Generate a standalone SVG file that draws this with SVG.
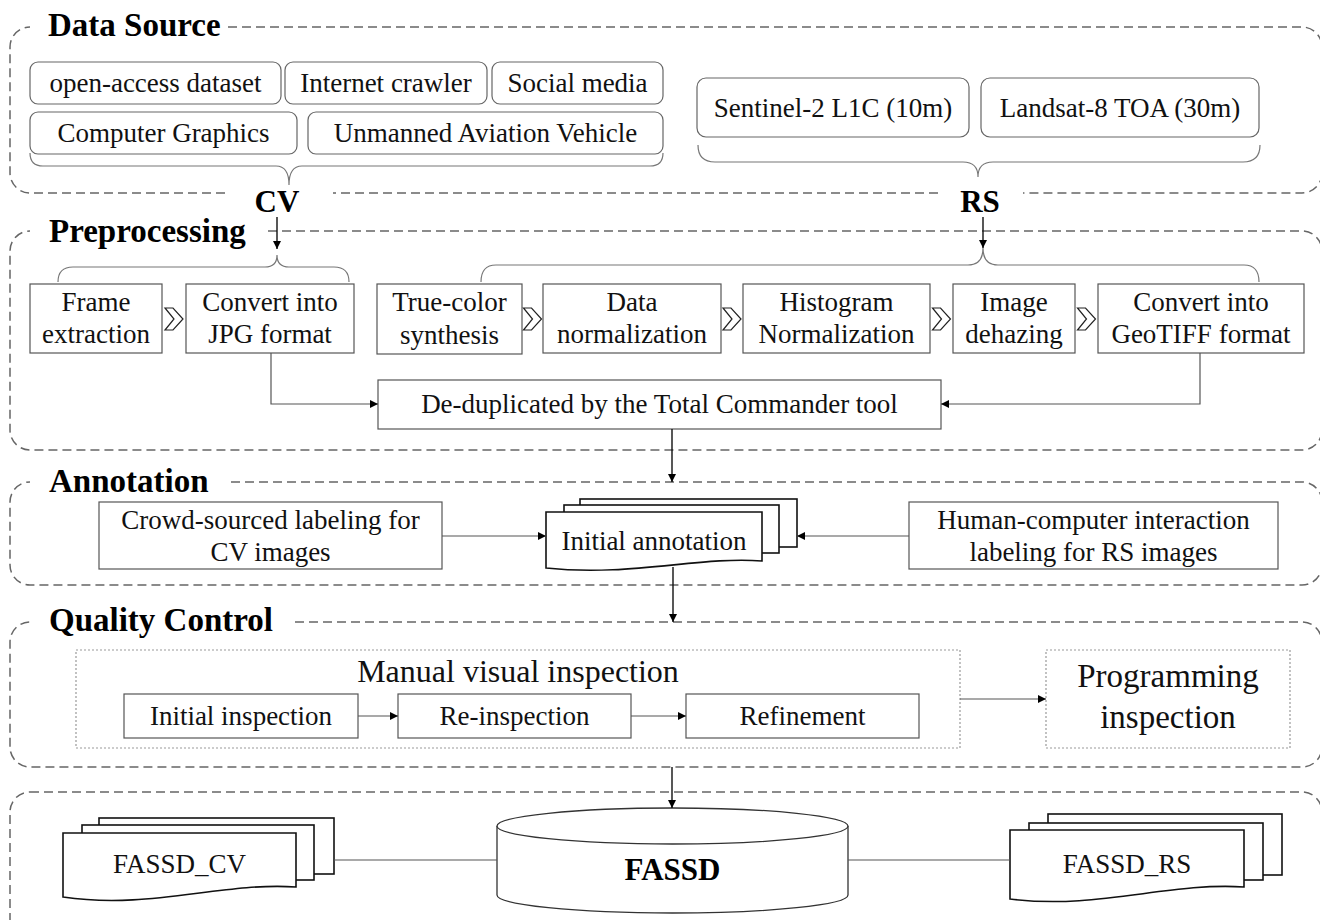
<svg xmlns="http://www.w3.org/2000/svg" width="1320" height="920" viewBox="0 0 1320 920">
<defs>
<marker id="ah" viewBox="0 0 10 10" refX="10" refY="5" markerWidth="9" markerHeight="8" markerUnits="userSpaceOnUse" orient="auto">
<path d="M0,0 L10,5 L0,10 z" fill="#000"/>
</marker>
<style>
.sec{fill:none;stroke:#666;stroke-width:1.5;stroke-dasharray:9 5}
.title{font-family:"Liberation Serif","Times New Roman",serif;font-weight:bold;font-size:33px;fill:#000}
.big{font-family:"Liberation Serif","Times New Roman",serif;font-weight:bold;font-size:31px;fill:#000;text-anchor:middle}
.t{font-family:"Liberation Serif","Times New Roman",serif;font-size:27px;fill:#111;text-anchor:middle}
.t32{font-family:"Liberation Serif","Times New Roman",serif;font-size:32px;fill:#111;text-anchor:middle}
.rbox{fill:#fff;stroke:#666;stroke-width:1.2}
.box{fill:#fff;stroke:#555;stroke-width:1.2}
.dot{fill:#fff;stroke:#999;stroke-width:1.2;stroke-dasharray:2 2}
.brace{fill:none;stroke:#777;stroke-width:1.2}
.chev{fill:none;stroke:#222;stroke-width:1.2;stroke-linejoin:miter}
.doc{fill:#fff;stroke:#111;stroke-width:1.6}
.conn{fill:none;stroke:#555;stroke-width:1.2}
.conk{fill:none;stroke:#111;stroke-width:1.4}
</style>
</defs>

<g id="sections">
<path class="sec" d="M 228 27 H 1302 A 20 20 0 0 1 1322 47 V 173 A 20 20 0 0 1 1302 193 H 1023 M 938 193 H 333 M 225 193 H 30 A 20 20 0 0 1 10 173 V 47 A 20 20 0 0 1 30 27"/>
<path class="sec" d="M 268 231 H 1302 A 20 20 0 0 1 1322 251 V 430 A 20 20 0 0 1 1302 450 H 30 A 20 20 0 0 1 10 430 V 251 A 20 20 0 0 1 30 231"/>
<path class="sec" d="M 231 482 H 1302 A 20 20 0 0 1 1322 502 V 565 A 20 20 0 0 1 1302 585 H 30 A 20 20 0 0 1 10 565 V 502 A 20 20 0 0 1 30 482"/>
<path class="sec" d="M 295 622 H 1302 A 20 20 0 0 1 1322 642 V 747 A 20 20 0 0 1 1302 767 H 30 A 20 20 0 0 1 10 747 V 642 A 20 20 0 0 1 30 622"/>
<path class="sec" d="M 30 792 H 1302 A 20 20 0 0 1 1322 812 V 950 M 10 950 V 812 A 20 20 0 0 1 30 792"/>
<text class="title" x="48" y="36">Data Source</text>
<text class="title" x="49" y="242">Preprocessing</text>
<text class="title" x="49" y="492">Annotation</text>
<text class="title" x="49" y="631">Quality Control</text>
</g>

<g id="data-source">
<g id="n-open"><rect class="rbox" x="30" y="62" width="251" height="42" rx="8"/><text class="t" x="155.5" y="92">open-access dataset</text></g>
<g id="n-crawler"><rect class="rbox" x="285" y="62" width="202" height="42" rx="8"/><text class="t" x="386" y="92">Internet crawler</text></g>
<g id="n-social"><rect class="rbox" x="492" y="62" width="171" height="42" rx="8"/><text class="t" x="577.5" y="92">Social media</text></g>
<g id="n-cg"><rect class="rbox" x="30" y="112" width="267" height="42" rx="8"/><text class="t" x="163.5" y="142">Computer Graphics</text></g>
<g id="n-uav"><rect class="rbox" x="308" y="112" width="355" height="42" rx="8"/><text class="t" x="485.5" y="142">Unmanned Aviation Vehicle</text></g>
<g id="n-s2"><rect class="rbox" x="697" y="78" width="272" height="59" rx="9"/><text class="t" x="833" y="117">Sentinel-2 L1C (10m)</text></g>
<g id="n-l8"><rect class="rbox" x="981" y="78" width="278" height="59" rx="9"/><text class="t" x="1120" y="117">Landsat-8 TOA (30m)</text></g>
<path class="brace" d="M 30 153 Q 30 166 43 166 H 276 Q 289 166 289 185 Q 289 166 302 166 H 650 Q 663 166 663 153"/>
<path class="brace" d="M 698 145 Q 698 162 715 162 H 963 Q 978 162 978 177 Q 978 162 993 162 H 1243 Q 1260 162 1260 145"/>
<text class="big" x="277" y="212">CV</text>
<text class="big" x="980" y="212">RS</text>
</g>

<g id="preprocessing">
<path class="brace" d="M 58 282 Q 58 267 73 267 H 265 Q 277 267 277 255 Q 277 267 289 267 H 334 Q 349 267 349 282"/>
<path class="brace" d="M 481 282 Q 481 265 496 265 H 968 Q 983 265 983 248 Q 983 265 998 265 H 1244 Q 1259 265 1259 282"/>
<g id="n-frame"><rect class="box" x="30" y="284" width="132" height="69"/><text class="t" x="96" y="311">Frame</text><text class="t" x="96" y="343">extraction</text></g>
<g id="n-jpg"><rect class="box" x="186" y="284" width="168" height="69"/><text class="t" x="270" y="311">Convert into</text><text class="t" x="270" y="343">JPG format</text></g>
<g id="n-true"><rect class="box" x="377" y="284" width="145" height="70"/><text class="t" x="449.5" y="311">True-color</text><text class="t" x="449.5" y="344">synthesis</text></g>
<g id="n-datanorm"><rect class="box" x="543" y="284" width="178" height="69"/><text class="t" x="632" y="311">Data</text><text class="t" x="632" y="343">normalization</text></g>
<g id="n-hist"><rect class="box" x="743" y="284" width="187" height="69"/><text class="t" x="836.5" y="311">Histogram</text><text class="t" x="836.5" y="343">Normalization</text></g>
<g id="n-dehaze"><rect class="box" x="953" y="284" width="122" height="69"/><text class="t" x="1014" y="311">Image</text><text class="t" x="1014" y="343">dehazing</text></g>
<g id="n-geotiff"><rect class="box" x="1098" y="284" width="206" height="69"/><text class="t" x="1201" y="311">Convert into</text><text class="t" x="1201" y="343">GeoTIFF format</text></g>
<g id="chevrons">
<path class="chev" d="M 165 308 H 173 L 183 319 L 173 330 H 165 L 174 319 Z"/>
<path class="chev" d="M 523.5 308 H 531.5 L 541.5 319 L 531.5 330 H 523.5 L 532.5 319 Z"/>
<path class="chev" d="M 723 308 H 731 L 741 319 L 731 330 H 723 L 732 319 Z"/>
<path class="chev" d="M 932.5 308 H 940.5 L 950.5 319 L 940.5 330 H 932.5 L 941.5 319 Z"/>
<path class="chev" d="M 1077.5 308 H 1085.5 L 1095.5 319 L 1085.5 330 H 1077.5 L 1086.5 319 Z"/>
</g>
<g id="n-dedup"><rect class="box" x="378" y="380" width="563" height="49"/><text class="t" x="659.5" y="413">De-duplicated by the Total Commander tool</text></g>
</g>

<g id="annotation">
<g id="n-crowd"><rect class="box" x="99" y="502" width="343" height="67"/><text class="t" x="270.5" y="529">Crowd-sourced labeling for</text><text class="t" x="270.5" y="561">CV images</text></g>
<g id="n-hci"><rect class="box" x="909" y="502" width="369" height="67"/><text class="t" x="1093.5" y="529">Human-computer interaction</text><text class="t" x="1093.5" y="561">labeling for RS images</text></g>
<g id="n-initial">
<rect class="doc" x="580" y="499" width="217" height="48"/>
<rect class="doc" x="564" y="505" width="215" height="48"/>
<path class="doc" d="M 546 512 H 762 V 561 C 700 556, 630 577, 546 568 Z"/>
<text class="t" x="654" y="550">Initial annotation</text>
</g>
</g>

<g id="quality-control">
<g id="n-manual"><rect class="dot" x="76" y="650" width="884" height="98"/><text class="t32" x="518" y="682">Manual visual inspection</text></g>
<g id="n-initinsp"><rect class="box" x="124" y="694" width="234" height="44"/><text class="t" x="241" y="725">Initial inspection</text></g>
<g id="n-reinsp"><rect class="box" x="398" y="694" width="233" height="44"/><text class="t" x="514.5" y="725">Re-inspection</text></g>
<g id="n-refine"><rect class="box" x="686" y="694" width="233" height="44"/><text class="t" x="802.5" y="725">Refinement</text></g>
<g id="n-prog"><rect class="dot" x="1046" y="650" width="244" height="98"/><text class="t32" x="1168" y="687" style="font-size:33px">Programming</text><text class="t32" x="1168" y="728" style="font-size:33px">inspection</text></g>
</g>

<g id="output">
<g id="n-fassd">
<path d="M 497 826 V 895 A 175.5 18 0 0 0 848 895 V 826" fill="#fff" stroke="#333" stroke-width="1.3"/>
<ellipse cx="672.5" cy="826" rx="175.5" ry="18" fill="#fff" stroke="#333" stroke-width="1.3"/>
<text class="big" x="672.5" y="880">FASSD</text>
</g>
<g id="n-fassd-cv">
<rect class="doc" x="99" y="818" width="235" height="56"/>
<rect class="doc" x="82" y="825" width="232" height="55"/>
<path class="doc" d="M 63 833 H 296 V 887 C 220 882, 150 910, 63 897 Z"/>
<text class="t" x="179.5" y="873">FASSD_CV</text>
</g>
<g id="n-fassd-rs">
<rect class="doc" x="1048" y="814" width="234" height="61"/>
<rect class="doc" x="1029" y="823" width="234" height="57"/>
<path class="doc" d="M 1010 830 H 1244 V 887 C 1168 882, 1098 910, 1010 899 Z"/>
<text class="t" x="1127" y="873">FASSD_RS</text>
</g>
</g>

<g id="connectors">
<line class="conk" x1="277" y1="217" x2="277" y2="249" marker-end="url(#ah)"/>
<line class="conk" x1="983" y1="217" x2="983" y2="248" marker-end="url(#ah)"/>
<path class="conn" d="M 271 353 V 404 H 378" marker-end="url(#ah)"/>
<path class="conn" d="M 1200 353 V 404 H 941" marker-end="url(#ah)"/>
<line class="conk" x1="672" y1="429" x2="672" y2="482" marker-end="url(#ah)"/>
<line class="conn" x1="442" y1="536" x2="546" y2="536" marker-end="url(#ah)"/>
<line class="conn" x1="909" y1="536" x2="797" y2="536" marker-end="url(#ah)"/>
<line class="conk" x1="673" y1="567" x2="673" y2="622" marker-end="url(#ah)"/>
<line class="conn" x1="358" y1="716" x2="398" y2="716" marker-end="url(#ah)"/>
<line class="conn" x1="631" y1="716" x2="686" y2="716" marker-end="url(#ah)"/>
<line class="conn" x1="960" y1="699" x2="1046" y2="699" marker-end="url(#ah)"/>
<line class="conk" x1="672" y1="767" x2="672" y2="808" marker-end="url(#ah)"/>
<line class="conn" x1="334" y1="860" x2="497" y2="860"/>
<line class="conn" x1="848" y1="860" x2="1010" y2="860"/>
</g>
</svg>
